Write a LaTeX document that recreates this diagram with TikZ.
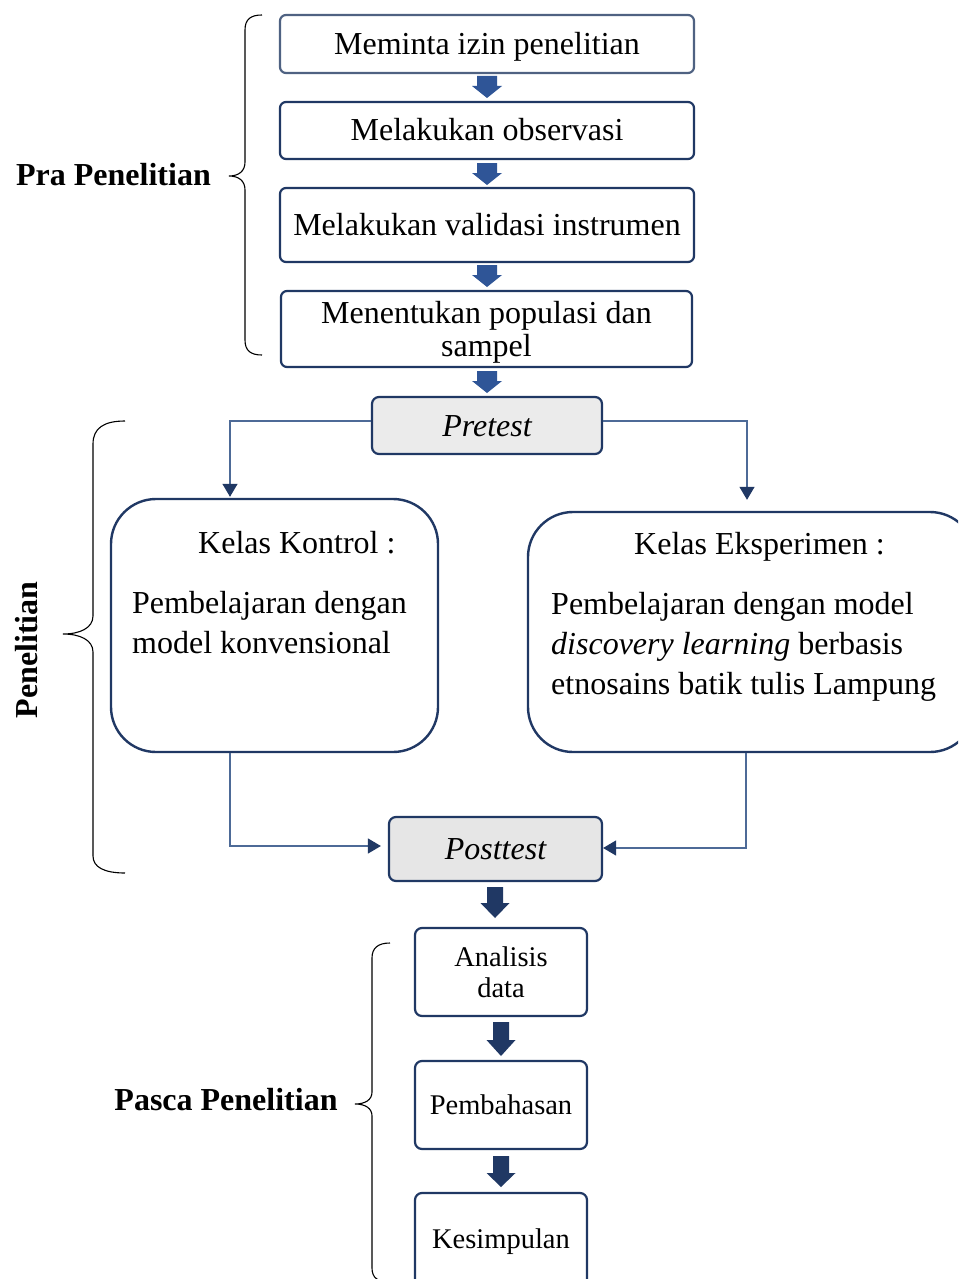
\documentclass[tikz,border=0pt]{standalone}
\usepackage{fontspec}
\setmainfont{Liberation Serif}
\usetikzlibrary{arrows.meta,calc}
\definecolor{navy}{HTML}{203864}
\definecolor{boxblue}{HTML}{4F6282}
\definecolor{arrblue}{HTML}{2F5597}
\definecolor{linecol}{HTML}{4D6A97}
\definecolor{graya}{HTML}{EBEBEB}
\definecolor{grayb}{HTML}{E6E6E6}
\newcommand{\myBlockArrow}[7]{%
\fill[#1] ({#2-#6},-#3) -- ({#2+#6},-#3) -- ({#2+#6},-#4) -- ({#2+#7},-#4) -- (#2,-#5) -- ({#2-#7},-#4) -- ({#2-#6},-#4) -- cycle;}
\begin{document}
\begin{tikzpicture}[x=1pt,y=1pt,
  stepbox/.style={draw=navy,line width=2.2pt,rounded corners=6pt,inner sep=0pt,align=center,fill=white,
    font=\fontsize{32}{33}\selectfont},
  oneline/.style={text height=28pt,text depth=7pt},
  smallbox/.style={stepbox,rounded corners=7pt,minimum width=172pt,font=\fontsize{28.5}{31}\selectfont},
  testbox/.style={stepbox,rounded corners=7pt,font=\fontsize{32}{33}\selectfont\itshape},
  kelasbox/.style={draw=navy,line width=2.4pt,rounded corners=45pt,inner sep=0pt,fill=white},
  kelastext/.style={inner sep=0pt,anchor=west,align=left,font=\fontsize{32}{40}\selectfont},
  conn/.style={draw=linecol,line width=1.3pt,-{Triangle[width=15pt,length=13pt,color=navy]}},
  bracepath/.style={draw=black,line width=1.1pt},
  sidelabel/.style={inner sep=0pt,font=\fontsize{32}{33}\selectfont\bfseries}
]
\clip (0,0) rectangle (958,-1279);
\fill[white] (0,0) rectangle (958,-1279);

% Pra Penelitian boxes
\node[stepbox,oneline,draw=boxblue,minimum width=414pt,minimum height=58pt] (b1) at (487,-44) {Meminta izin penelitian};
\node[stepbox,oneline,minimum width=414pt,minimum height=57pt] (b2) at (487,-130.5) {Melakukan observasi};
\node[stepbox,oneline,minimum width=414pt,minimum height=74pt] (b3) at (487,-225) {Melakukan validasi instrumen};
\node[stepbox,minimum width=411pt,minimum height=76pt] (b4) at (486.5,-329) {\rule{0pt}{28pt}Menentukan populasi dan\\sampel};
\node[testbox,oneline,fill=graya,minimum width=230pt,minimum height=57pt] (pre) at (487,-425.5) {Pretest};

\myBlockArrow{arrblue}{487}{76}{86}{98}{10}{15}
\myBlockArrow{arrblue}{487}{163}{173}{185}{10}{15}
\myBlockArrow{arrblue}{487}{265}{275}{287}{10}{15}
\myBlockArrow{arrblue}{487}{371}{381}{393}{10}{15}

% Penelitian
\node[kelasbox,minimum width=327pt,minimum height=253pt] (kon) at (274.5,-625.5) {};
\node[kelasbox,minimum width=447pt,minimum height=240pt] (eks) at (751.5,-632) {};
\node[kelastext] (konT) at (198,-543) {Kelas Kontrol :};
\node[kelastext] (konB) at (132,-623) {Pembelajaran dengan\\model konvensional};
\node[kelastext] (eksT) at (634,-547) {Kelas Eksperimen :};
\node[kelastext] (eksB) at (551,-647) {Pembelajaran dengan model\\\textit{discovery learning} berbasis\\etnosains batik tulis Lampung};

\node[testbox,oneline,fill=grayb,minimum width=213pt,minimum height=64pt] (post) at (495.5,-849) {Posttest};

\draw[conn] ([yshift=4.5pt]pre.west) -| ([xshift=-44.5pt,yshift=1pt]kon.north);
\draw[conn] ([yshift=4.5pt]pre.east) -| ([xshift=-4.5pt,yshift=11pt]eks.north);
\draw[conn] ([xshift=-44.5pt]kon.south) |- ([xshift=-7pt,yshift=3pt]post.west);
\draw[conn] ([xshift=-5.5pt]eks.south) |- ([yshift=1pt]post.east);

% Pasca
\node[smallbox,minimum height=88pt] (an) at (501,-972) {Analisis\\data};
\node[smallbox,minimum height=88pt] (pem) at (501,-1105) {Pembahasan};
\node[smallbox,minimum height=97pt] (kes) at (501,-1241.5) {Kesimpulan};

\myBlockArrow{navy}{495}{887}{903}{918}{8}{14.5}
\myBlockArrow{navy}{501}{1022}{1040}{1056}{8}{14.5}
\myBlockArrow{navy}{501}{1156}{1173}{1187}{8}{14.5}

% braces
\draw[bracepath] (262,-15) .. controls (251,-15) and (245,-19) .. (245,-30) -- (245,-162)
  .. controls (245,-171) and (239,-176) .. (229,-176)
  .. controls (239,-176) and (245,-181) .. (245,-190) -- (245,-340)
  .. controls (245,-351) and (251,-355) .. (262,-355);
\draw[bracepath] (125,-421) .. controls (104,-421) and (93,-428) .. (93,-444) -- (93,-616)
  .. controls (93,-628) and (80,-634) .. (63,-634)
  .. controls (80,-634) and (93,-640) .. (93,-652) -- (93,-856)
  .. controls (93,-867) and (104,-873) .. (125,-873);
\draw[bracepath] (390,-943) .. controls (378,-943) and (372,-948) .. (372,-958) -- (372,-1092)
  .. controls (372,-1100) and (365,-1104) .. (355,-1104)
  .. controls (365,-1104) and (372,-1108) .. (372,-1116) -- (372,-1268)
  .. controls (372,-1278) and (378,-1282) .. (390,-1282);

\node[sidelabel,anchor=east] (praL) at (211,-175) {Pra Penelitian};
\node[sidelabel,rotate=90] (penL) at (27,-650) {Penelitian};
\node[sidelabel] (pasL) at (226,-1100) {Pasca Penelitian};
\end{tikzpicture}
\end{document}
